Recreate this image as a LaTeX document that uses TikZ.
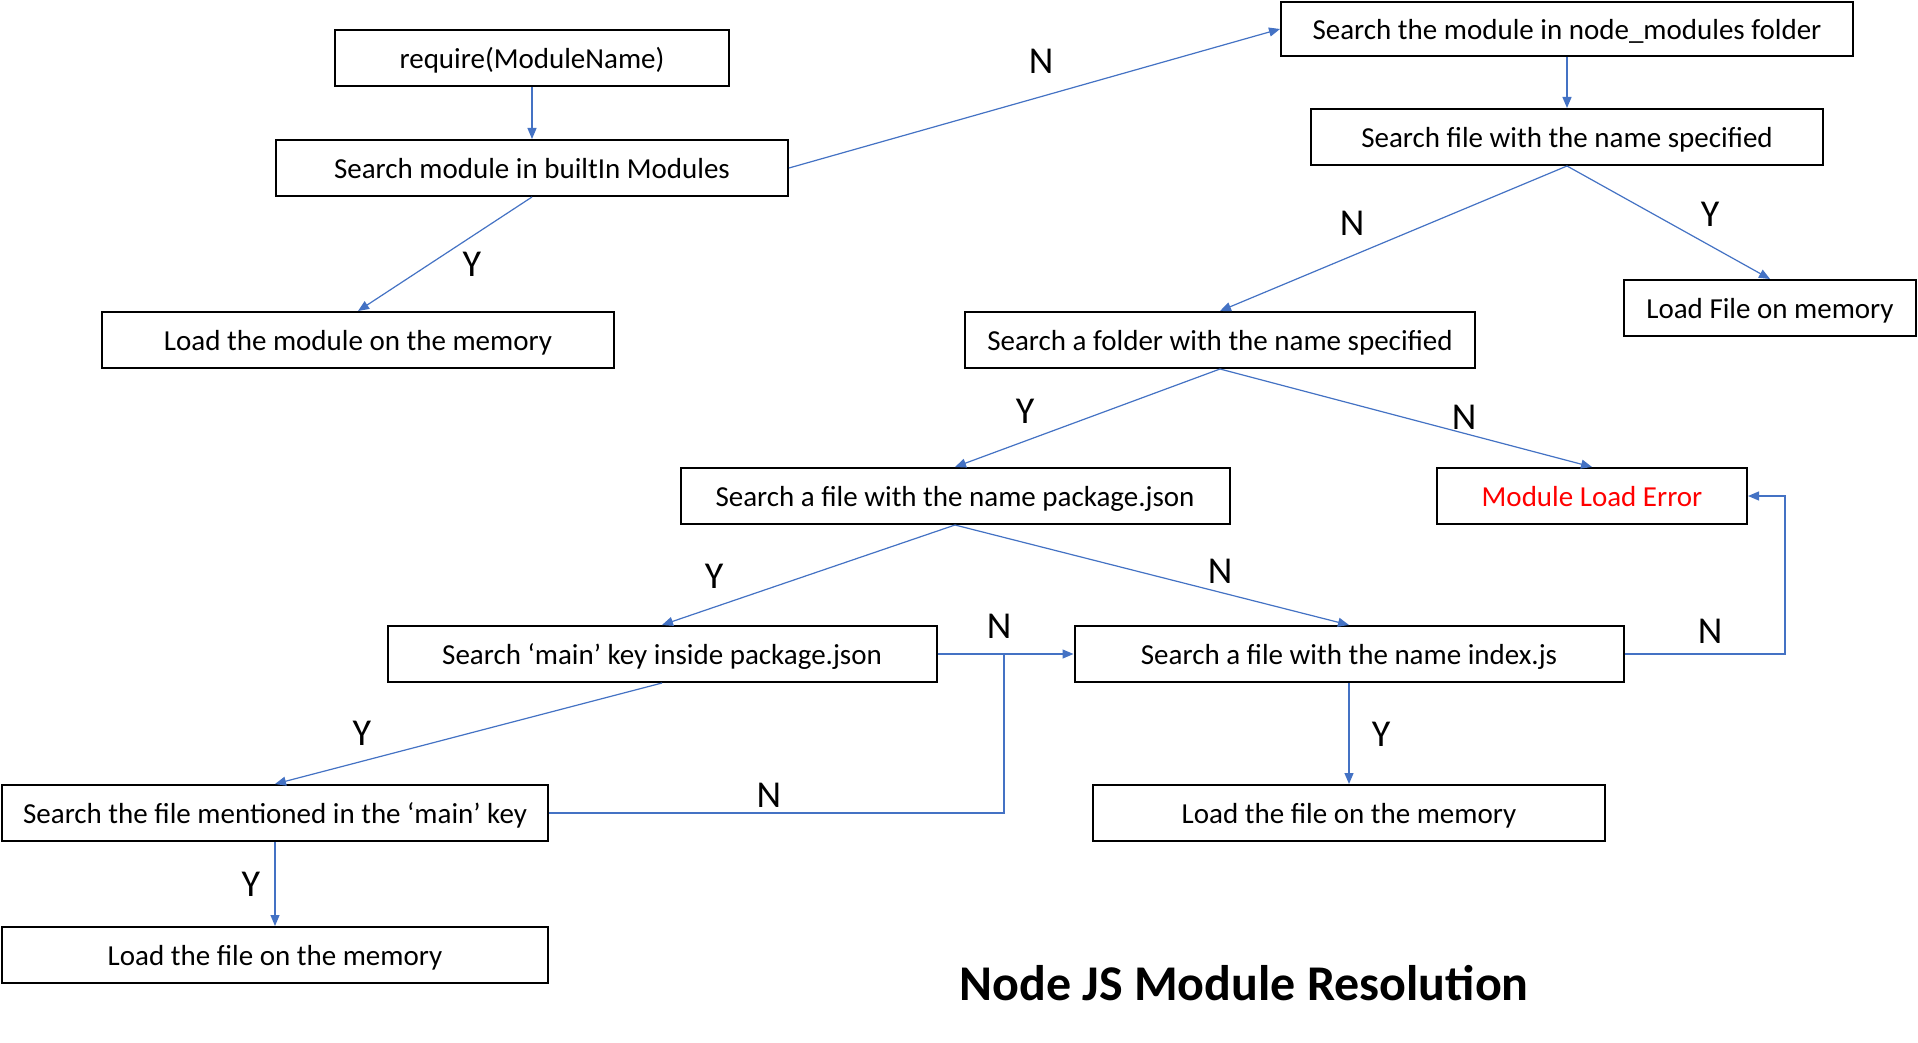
\documentclass[tikz,border=0pt]{standalone}
\usepackage{fontspec}
\setmainfont{Carlito}
\usetikzlibrary{arrows.meta}
\definecolor{connblue}{HTML}{4472C4}
\begin{document}
\begin{tikzpicture}[x=1pt,y=-1pt,
 box/.style={draw=black, line width=2pt, minimum height=56pt, inner sep=0pt, text height=24pt, text depth=3pt, font=\fontsize{29}{34}\selectfont},
 lbl/.style={font=\fontsize{38}{44}\selectfont, inner sep=0pt},
 conn/.style={draw=connblue, line width=1.2pt, -{Triangle[length=11pt,width=9pt]}},
 plainline/.style={draw=connblue, line width=1.2pt}]
\useasboundingbox[fill=white] (0,0) rectangle (1918,1043);
% boxes
\node[box, minimum width=394pt] (req) at (532,58) {require(ModuleName)};
\node[box, minimum width=512pt] (bi) at (532,168) {Search module in builtIn Modules};
\node[box, minimum width=512pt] (lm) at (358,340) {Load the module on the memory};
\node[box, minimum width=572pt, minimum height=54pt] (nm) at (1567,29) {Search the module in node\_modules folder};
\node[box, minimum width=512pt] (sf) at (1567,137) {Search file with the name specified};
\node[box, minimum width=292pt] (lf) at (1770,308) {Load File on memory};
\node[box, minimum width=510pt] (fo) at (1220,340) {Search a folder with the name specified};
\node[box, minimum width=549pt] (pj) at (955,496) {Search a file with the name package.json};
\node[box, minimum width=310pt, text=red] (me) at (1592,496) {Module Load Error};
\node[box, minimum width=549pt] (mk) at (662,654) {Search ‘main’ key inside package.json};
\node[box, minimum width=549pt] (ix) at (1349,654) {Search a file with the name index.js};
\node[box, minimum width=546pt] (fm) at (275,813) {Search the file mentioned in the ‘main’ key};
\node[box, minimum width=512pt] (lr) at (1349,813) {Load the file on the memory};
\node[box, minimum width=546pt] (ll) at (275,955) {Load the file on the memory};
\node[font=\fontsize{50}{60}\selectfont\bfseries, inner sep=0pt] (title) at (1244,983) {Node JS Module Resolution};
% junction coordinates
\coordinate (j1) at (1004,654);
\coordinate (j2) at (1785,654);
% connectors
\draw[conn] (req.south) -- (bi.north);
\draw[conn] (bi.east) -- (nm.west);
\draw[conn] (bi.south) -- (lm.north);
\draw[conn] (nm.south) -- (sf.north);
\draw[conn] (sf.south) -- (fo.north);
\draw[conn] (sf.south) -- (lf.north);
\draw[conn] (fo.south) -- (pj.north);
\draw[conn] (fo.south) -- (me.north);
\draw[conn] (pj.south) -- (mk.north);
\draw[conn] (pj.south) -- (ix.north);
\draw[conn] (mk.east) -- (ix.west);
\draw[conn] (mk.south) -- (fm.north);
\draw[plainline] (fm.east) -| (j1);
\draw[conn] (ix.east) -- (j2) |- (me.east);
\draw[conn] (ix.south) -- (lr.north);
\draw[conn] (fm.south) -- (ll.north);
% labels
\node[lbl] (l1) at (1041,61) {N};
\node[lbl] (l2) at (472,264) {Y};
\node[lbl] (l3) at (1352,223) {N};
\node[lbl] (l4) at (1710,214) {Y};
\node[lbl] (l5) at (1025,411) {Y};
\node[lbl] (l6) at (1464,417) {N};
\node[lbl] (l7) at (714,576) {Y};
\node[lbl] (l8) at (1220,571) {N};
\node[lbl] (l9) at (999,626) {N};
\node[lbl] (l10) at (1710,631) {N};
\node[lbl] (l11) at (362,733) {Y};
\node[lbl] (l12) at (769,795) {N};
\node[lbl] (l13) at (1381,734) {Y};
\node[lbl] (l14) at (251,884) {Y};
\end{tikzpicture}
\end{document}
